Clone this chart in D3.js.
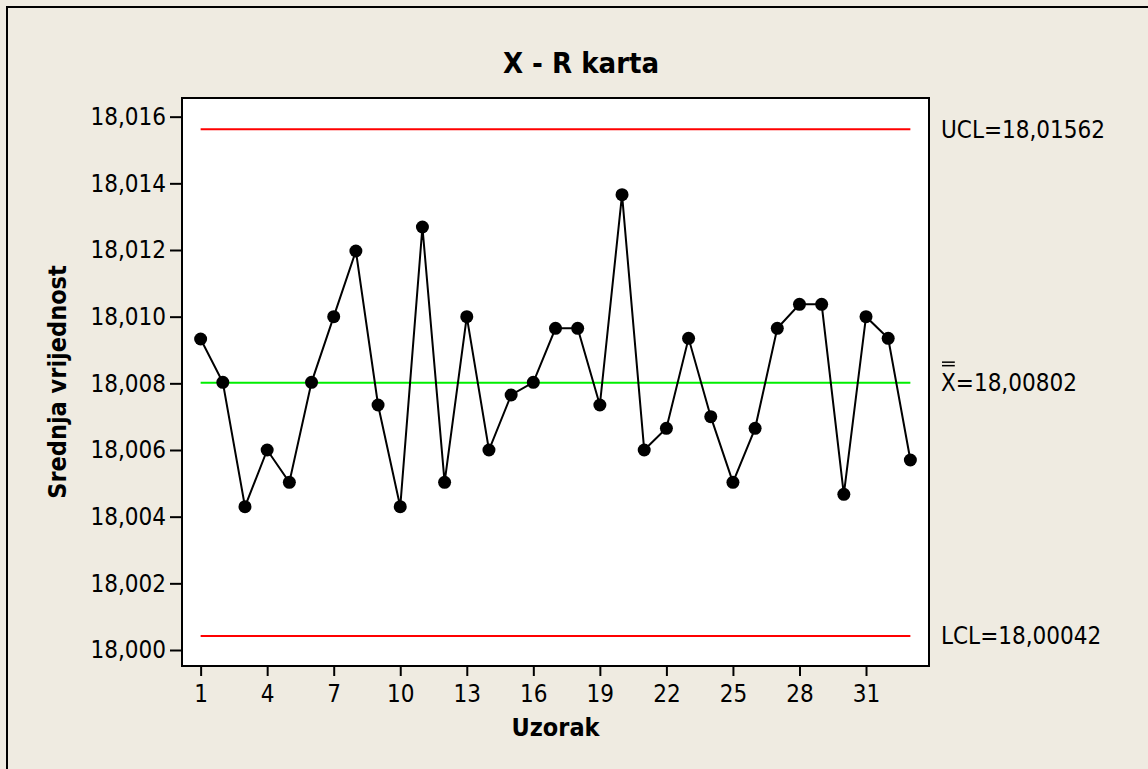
<!DOCTYPE html>
<html>
<head>
<meta charset="utf-8">
<script src="https://d3js.org/d3.v7.min.js"></script>
<style>
    body { margin: 0; background: #efebe1; }
    svg { display: block; font-family: "DejaVu Sans Condensed", "DejaVu Sans", sans-serif; }
</style>
</head>
<body>
<div id="chart"></div>
<script>
// sample means per subgroup (Uzorak 1..33)
var samples = d3.range(1, 34);
var means = [18.00933, 18.00803, 18.00430, 18.00600, 18.00503, 18.00803, 18.01000, 18.01197,
    18.00735, 18.00430, 18.01269, 18.00503, 18.01000, 18.00600, 18.00765, 18.00803,
    18.00965, 18.00965, 18.00735, 18.01366, 18.00600, 18.00665, 18.00935, 18.00700,
    18.00503, 18.00665, 18.00965, 18.01037, 18.01037, 18.00467, 18.01000, 18.00935,
    18.00570];

var ucl = 18.01562, center = 18.00802, lcl = 18.00042;
var xTicks = [1, 4, 7, 10, 13, 16, 19, 22, 25, 28, 31];
var yTicks = [18.000, 18.002, 18.004, 18.006, 18.008, 18.010, 18.012, 18.014, 18.016];

var W = 1148, H = 769;
var plot = {left: 182, right: 929, top: 98, bottom: 666};

var comma = d3.formatLocale({decimal: ",", thousands: ".", grouping: [3], currency: ["", ""]});
var fmt3 = comma.format(".3f"),
    fmt5 = comma.format(".5f");

var svg = d3.select("#chart")
    .append("svg")
    .attr("width", W)
    .attr("height", H);

// outer frame
svg.append("rect")
    .attr("x", 7).attr("y", 7)
    .attr("width", W + 20).attr("height", H + 20)
    .attr("fill", "#efebe1")
    .attr("stroke", "#000")
    .attr("stroke-width", 2);

var x = d3.scaleLinear()
    .domain([0.16, 33.84])
    .range([plot.left, plot.right]);

var y = d3.scaleLinear()
    .domain([17.99952, 18.01656])
    .range([plot.bottom, plot.top]);

// plot area
svg.append("rect")
    .attr("x", plot.left).attr("y", plot.top)
    .attr("width", plot.right - plot.left)
    .attr("height", plot.bottom - plot.top)
    .attr("fill", "#fff")
    .attr("stroke", "#000")
    .attr("stroke-width", 2);

// axes
var xAxis = svg.append("g")
    .attr("transform", "translate(0," + plot.bottom + ")")
    .call(d3.axisBottom(x).tickValues(xTicks).tickSize(10).tickPadding(9).tickSizeOuter(0));

var yAxis = svg.append("g")
    .attr("transform", "translate(" + plot.left + ",0)")
    .call(d3.axisLeft(y).tickValues(yTicks).tickFormat(fmt3).tickSize(12).tickPadding(4).tickSizeOuter(0));

[xAxis, yAxis].forEach(function (g) {
    g.select(".domain").remove();
    g.selectAll("line").attr("stroke", "#000").attr("stroke-width", 2);
    g.selectAll("text")
        .attr("fill", "#000")
        .style("font-family", "\"DejaVu Sans Condensed\", \"DejaVu Sans\", sans-serif")
        .style("font-size", "24px");
});

// control limits
var limits = [
    {v: ucl, color: "#ff0000"},
    {v: center, color: "#00ee00"},
    {v: lcl, color: "#ff0000"}
];
svg.selectAll(".limit")
    .data(limits)
    .enter().append("line")
    .attr("class", "limit")
    .attr("x1", x(1)).attr("x2", x(33))
    .attr("y1", function (d) { return y(d.v); })
    .attr("y2", function (d) { return y(d.v); })
    .attr("stroke", function (d) { return d.color; })
    .attr("stroke-width", 2);

// data line + points
svg.append("path")
    .datum(means)
    .attr("fill", "none")
    .attr("stroke", "#000")
    .attr("stroke-width", 2)
    .attr("d", d3.line()
        .x(function (d, i) { return x(samples[i]); })
        .y(function (d) { return y(d); }));

svg.selectAll(".pt")
    .data(means)
    .enter().append("circle")
    .attr("class", "pt")
    .attr("cx", function (d, i) { return x(samples[i]); })
    .attr("cy", function (d) { return y(d); })
    .attr("r", 6.5)
    .attr("fill", "#000");

// limit labels on the right
var lx = 941;
svg.append("text")
    .attr("x", lx).attr("y", y(ucl)).attr("dy", "0.35em")
    .style("font-size", "24px")
    .text("UCL=" + fmt5(ucl));

svg.append("text")
    .attr("x", lx).attr("y", y(lcl)).attr("dy", "0.35em")
    .style("font-size", "24px")
    .text("LCL=" + fmt5(lcl));

var xbar = svg.append("text")
    .attr("x", lx).attr("y", y(center)).attr("dy", "0.35em")
    .style("font-size", "24px")
    .text("X");
var xw = xbar.node().getComputedTextLength();
svg.append("text")
    .attr("x", lx + xw).attr("y", y(center)).attr("dy", "0.35em")
    .style("font-size", "24px")
    .text("=" + fmt5(center));
// double bar over X
[-20.5, -17].forEach(function (dy) {
    svg.append("line")
        .attr("x1", lx + 1).attr("x2", lx + xw - 1)
        .attr("y1", y(center) + dy).attr("y2", y(center) + dy)
        .attr("stroke", "#000")
        .attr("stroke-width", 1.5);
});

// titles
svg.append("text")
    .attr("x", 581).attr("y", 63).attr("dy", "0.35em")
    .attr("text-anchor", "middle")
    .style("font-size", "29px").style("font-weight", "bold")
    .text("X - R karta");

svg.append("text")
    .attr("x", (plot.left + plot.right) / 2).attr("y", 727).attr("dy", "0.35em")
    .attr("text-anchor", "middle")
    .style("font-size", "25px").style("font-weight", "bold")
    .text("Uzorak");

svg.append("text")
    .attr("transform", "translate(57," + ((plot.top + plot.bottom) / 2) + ") rotate(-90)")
    .attr("dy", "0.35em")
    .attr("text-anchor", "middle")
    .style("font-size", "25px").style("font-weight", "bold")
    .text("Srednja vrijednost");
</script>
</body>
</html>
